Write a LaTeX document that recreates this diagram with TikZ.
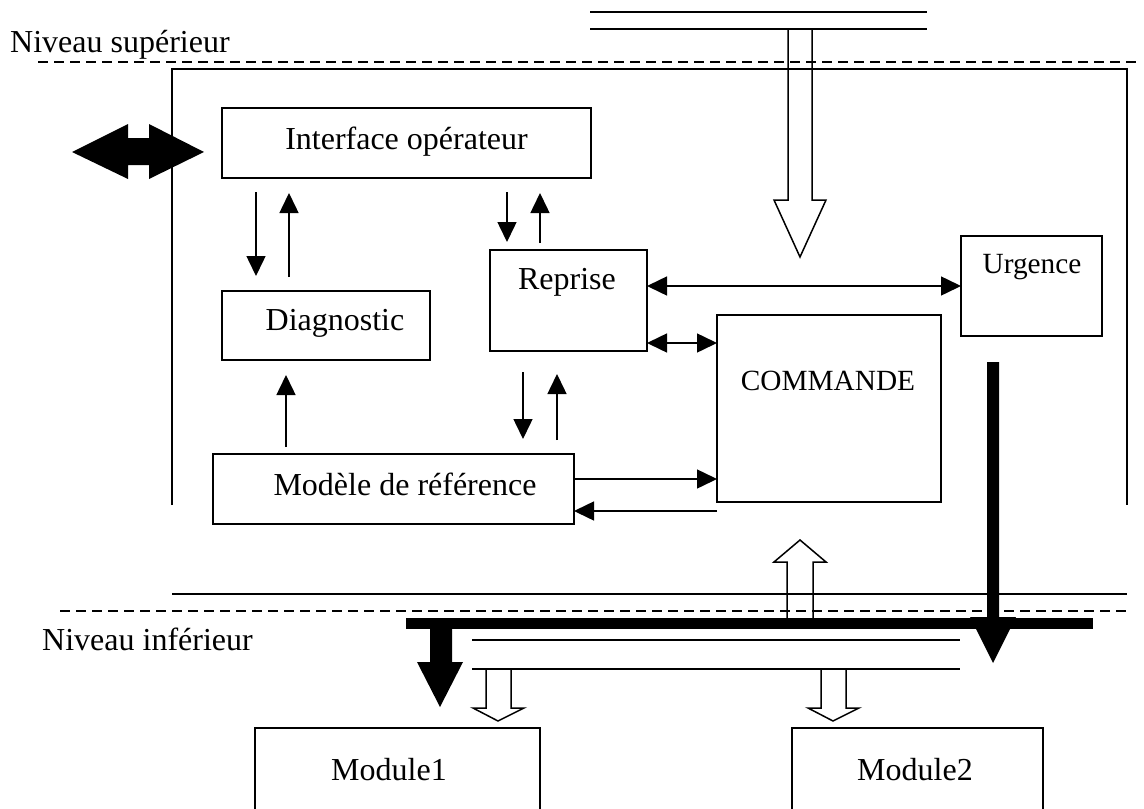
\documentclass[tikz,border=0pt]{standalone}
\usepackage{fontspec}
\setmainfont{Liberation Serif}
\usetikzlibrary{arrows.meta}
\begin{document}
\begin{tikzpicture}[x=1pt,y=-1pt,
  box/.style={draw, line width=1.8pt, inner sep=0pt, outer sep=0pt},
  txt/.style={inner sep=0pt, anchor=base, font=\fontsize{32pt}{38pt}\selectfont},
  stxt/.style={inner sep=0pt, anchor=base, font=\fontsize{29.3pt}{35pt}\selectfont},
  thinline/.style={line width=1.5pt},
  dashline/.style={line width=1.5pt, dash pattern=on 10pt off 6pt},
  arr/.style={line width=1.5pt, -{Triangle[length=20pt,width=19pt]}},
  darr/.style={line width=1.5pt, {Triangle[length=20pt,width=19pt]}-{Triangle[length=20pt,width=19pt]}},
  hollow/.style={line width=1.5pt, line join=miter},
  solidblack/.style={fill=black, draw=none}
]
\useasboundingbox (0,0) rectangle (1144,809);
\clip (0,0) rectangle (1144,809);

% level lines and frame
\draw[thinline] (590,12) -- (927,12);
\draw[thinline] (590,29) -- (927,29);
\draw[dashline] (38,62) -- (1140,62);
\draw[thinline] (172,505) -- (172,69) -- (1127,69) -- (1127,505);
\draw[thinline] (172,594) -- (1127,594);
\draw[dashline] (60,611) -- (1130,611);
\draw[thinline] (472,640) -- (960,640);
\draw[thinline] (472,669) -- (960,669);

% boxes
\node[box, minimum width=369pt, minimum height=70pt] (iface) at (406.5,143) {};
\node[box, minimum width=208pt, minimum height=69pt] (diag) at (326,325.5) {};
\node[box, minimum width=157pt, minimum height=101pt] (rep) at (568.5,300.5) {};
\node[box, minimum width=141pt, minimum height=100pt] (urg) at (1031.5,286) {};
\node[box, minimum width=224pt, minimum height=187pt] (cmd) at (829,408.5) {};
\node[box, minimum width=361pt, minimum height=70pt] (mod) at (393.5,489) {};
\node[box, minimum width=285pt, minimum height=90pt] (m1) at (397.5,773) {};
\node[box, minimum width=251pt, minimum height=90pt] (m2) at (917.5,773) {};

% texts
\node[txt, anchor=base west] (tsup) at (10,52) {Niveau supérieur};
\node[txt, anchor=base west] (tinf) at (42,650) {Niveau inférieur};
\node[txt] (tif) at (406.5,149) {Interface opérateur};
\node[txt] (tdg) at (335,330) {Diagnostic};
\node[txt] (trp) at (567,289) {Reprise};
\node[stxt] (tug) at (1032,273) {Urgence};
\node[stxt] (tcm) at (828,390) {COMMANDE};
\node[txt] (tmd) at (405,495) {Modèle de référence};
\node[txt] (tm1) at (389,780) {Module1};
\node[txt] (tm2) at (915,780) {Module2};

% thin arrows
\draw[arr, shorten <=14pt, shorten >=15pt] (iface.south -| 256,0) -- (diag.north -| 256,0);
\draw[arr, shorten <=14pt, shorten >=15pt] (diag.north -| 289,0) -- (iface.south -| 289,0);
\draw[arr, shorten <=14pt, shorten >=8pt] (iface.south -| 507,0) -- (rep.north -| 507,0);
\draw[arr, shorten <=7pt, shorten >=15pt] (rep.north -| 540,0) -- (iface.south -| 540,0);
\draw[arr, shorten <=7pt, shorten >=15pt] (mod.north -| 286,0) -- (diag.south -| 286,0);
\draw[arr, shorten <=21pt, shorten >=15pt] (rep.south -| 523,0) -- (mod.north -| 523,0);
\draw[arr, shorten <=14pt, shorten >=23pt] (mod.north -| 557,0) -- (rep.south -| 557,0);
\draw[darr] (rep.east |- urg.west) -- (urg.west);
\draw[darr] (rep.east |- 0,343) -- (cmd.west |- 0,343);
\draw[arr] (mod.east |- 0,479) -- (cmd.west |- 0,479);
\draw[arr] (cmd.west |- 0,511) -- (mod.east |- 0,511);

% operator double arrow
\fill[solidblack] (72,152) -- (128,124) -- (128,138) -- (149,138) -- (149,124) -- (204,152)
  -- (149,179) -- (149,165) -- (128,165) -- (128,179) -- cycle;

% hollow arrows
\draw[hollow] (788,29) -- (788,200) -- (774,200) -- (800,257) -- (826,200) -- (812,200) -- (812,29);
\draw[hollow] (787,618) -- (787,562) -- (774,562) -- (800,540) -- (826,562) -- (813,562) -- (813,618);
\draw[hollow] (486,669) -- (486,708) -- (473,708) -- (498,721) -- (524,708) -- (511,708) -- (511,669);
\draw[hollow] (821,669) -- (821,708) -- (808,708) -- (833,721) -- (859,708) -- (846,708) -- (846,669);

% thick bus and arrows
\fill[solidblack] (406,618) rectangle (1093,629);
\fill[solidblack] (430,625) -- (430,662) -- (417,662) -- (440,707) -- (463,662) -- (452,662) -- (452,625) -- cycle;
\fill[solidblack] (987,362) -- (987,617) -- (970,617) -- (993,663) -- (1016,617) -- (999,617) -- (999,362) -- cycle;
\end{tikzpicture}
\end{document}
